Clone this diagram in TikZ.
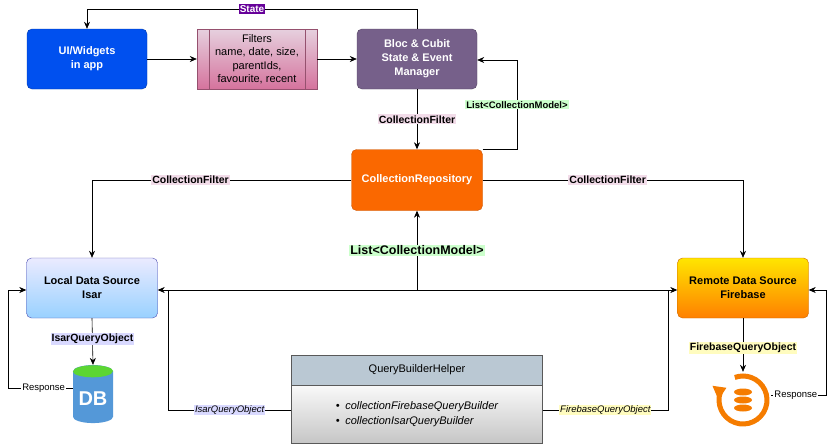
\documentclass[tikz,border=0pt]{standalone}
\usepackage{fontspec}
\setmainfont{Liberation Sans}
\usetikzlibrary{arrows.meta,positioning,shapes.geometric}
\definecolor{uiblue}{HTML}{0050EF}
\definecolor{blocpurple}{HTML}{76608A}
\definecolor{repoorange}{HTML}{FA6800}
\definecolor{fbase}{HTML}{F57C00}
\definecolor{qbhead}{HTML}{BAC8D3}
\definecolor{filtpink}{HTML}{E6D0DE}
\definecolor{filtdeep}{HTML}{D5739D}
\tikzset{
  box/.style={rounded corners=5pt,minimum width=120pt,minimum height=60pt,
    align=center,font=\bfseries\fontsize{11}{14}\selectfont,inner sep=2pt},
  lbl/.style={inner sep=1pt,font=\fontsize{10.5}{12}\selectfont},
  flow/.style={-{Stealth[length=7pt,width=6pt]},semithick},
  line/.style={semithick}
}
\begin{document}
\begin{tikzpicture}[x=1pt,y=-1pt]
  \useasboundingbox (0,0) rectangle (836,445);
  % top row
  \node[box,fill=uiblue,draw=uiblue!70!black,text=white] (ui) at (87,59) {UI/Widgets\\in app};
  \node[draw=filtdeep!70!black,top color=filtpink,bottom color=filtdeep,
    minimum width=120pt,minimum height=60pt,align=center,inner sep=1pt,
    font=\fontsize{11}{13.5}\selectfont] (filt) at (257,59)
    {Filters\\name, date, size,\\parentIds,\\favourite, recent};
  \draw[filtdeep!70!black] (209,29) -- (209,89) (305,29) -- (305,89);
  \node[box,fill=blocpurple,draw=blocpurple!70!black,text=white] (bloc) at (417,59)
    {Bloc \& Cubit\\State \& Event\\Manager};
  % repository
  \node[box,fill=repoorange,draw=repoorange!80!black,text=white,minimum width=131pt,
    minimum height=61pt] (repo) at (417,180) {CollectionRepository};
  % data sources
  \node[box,draw=blue!40!gray,top color=blue!8,bottom color=blue!45!cyan!40,
    minimum width=131pt] (local) at (92,288) {Local Data Source\\Isar};
  \node[box,draw=orange!80!black,top color=yellow!80!orange,bottom color=orange,
    minimum width=131pt] (remote) at (743,288) {Remote Data Source\\Firebase};
  % query builder
  \node[draw=gray!70!black,fill=qbhead,minimum width=251pt,minimum height=30pt,
    font=\fontsize{11}{13}\selectfont] (qbh) at (417,370) {QueryBuilderHelper};
  \node[draw=gray!70!black,top color=gray!5,bottom color=gray!45,minimum width=251pt,
    minimum height=58pt,below=0pt of qbh,font=\itshape\fontsize{11}{15}\selectfont,
    align=left] (qbb) {\textbullet\enspace collectionFirebaseQueryBuilder\\
    \textbullet\enspace collectionIsarQueryBuilder};
  % icons
  \node[cylinder,shape border rotate=90,aspect=0.35,fill=cyan!60!blue!70,
    minimum width=40pt,minimum height=58pt,text=white,
    font=\bfseries\fontsize{20}{20}\selectfont] (db) at (93,399) {DB};
  \fill[green!60!olive!80] (db.before top) arc[start angle=180,end angle=360,
    x radius=20pt,y radius=6pt] -- (db.after top) arc[start angle=0,end angle=180,
    x radius=20pt,y radius=6pt];
  \node[circle,minimum size=56pt,inner sep=0pt] (fire) at (743,400) {};
  \draw[fbase,line width=5pt] (fire.center) ++(200:24) arc[start angle=200,end angle=-110,radius=24];
  \fill[fbase] (fire.center) ++(200:24) ++(-8,-6) -- ++(14,2) -- ++(-8,12) -- cycle;
  \foreach \dy in {-8,0,8}
    \fill[fbase] ([yshift=\dy]fire.center) ellipse[x radius=9pt,y radius=3.5pt];
  % connectors
  \coordinate (st1) at (417,9);
  \coordinate (st2) at (87,9);
  \draw[flow] (bloc.north) -- (st1) -- node[lbl,fill=violet!80!blue,text=white,
    font=\bfseries\fontsize{10}{12}\selectfont] {State} (st2) -- (ui.north);
  \draw[flow] (ui) -- (filt);
  \draw[flow] (filt) -- (bloc);
  \draw[flow] (bloc) -- node[lbl,fill=pink!60!violet!25,font=\bfseries\fontsize{10.5}{12}\selectfont] {CollectionFilter} (repo);
  \draw[flow] (repo.north east) -| (517,60) node[pos=0.75,lbl,fill=green!20,
    font=\bfseries\fontsize{9.5}{11}\selectfont] {List<CollectionModel>} -- (bloc.east |- 0,60);
  \draw[flow] (repo.west) -| node[pos=0.31,lbl,fill=pink!60!violet!25,
    font=\bfseries\fontsize{10.5}{12}\selectfont] {CollectionFilter} (local.north);
  \draw[flow] (repo.east) -| node[pos=0.24,lbl,fill=pink!60!violet!25,
    font=\bfseries\fontsize{10.5}{12}\selectfont] {CollectionFilter} (remote.north);
  \coordinate (lj) at (168,290);
  \coordinate (rj) at (668,290);
  \draw[flow] (qbb.west |- 0,410) -| node[pos=0.25,lbl,fill=blue!15,
    font=\itshape\fontsize{9.5}{11}\selectfont] {IsarQueryObject} (lj) -- (local.east |- lj);
  \draw[flow] (qbb.east |- 0,410) -| node[pos=0.25,lbl,fill=yellow!25,
    font=\itshape\fontsize{9.5}{11}\selectfont] {FirebaseQueryObject} (rj) -- (remote.west |- rj);
  \draw[line] (lj) -- (rj);
  \draw[flow] (417,290) -- node[lbl,fill=green!20,font=\bfseries\fontsize{12.5}{14}\selectfont,
    pos=0.5] {List<CollectionModel>} (repo.south);
  \draw[flow] (local.south) -- node[lbl,fill=blue!15,pos=0.45,
    font=\bfseries\fontsize{10.5}{12}\selectfont] {IsarQueryObject} (db.north);
  \draw[flow] (remote.south) -- node[lbl,fill=yellow!25,pos=0.55,
    font=\bfseries\fontsize{10.5}{12}\selectfont] {FirebaseQueryObject} (fire.north);
  \draw[flow] (db.west |- 0,388) -- node[lbl,fill=white,pos=0.45,font=\fontsize{9.5}{11}\selectfont] {Response}
    (8,388) |- (local.west |- lj);
  \draw[flow] (fire.east |- 0,395) -- node[lbl,fill=white,pos=0.45,font=\fontsize{9.5}{11}\selectfont] {Response}
    (826,395) |- (remote.east |- rj);
\end{tikzpicture}
\end{document}
